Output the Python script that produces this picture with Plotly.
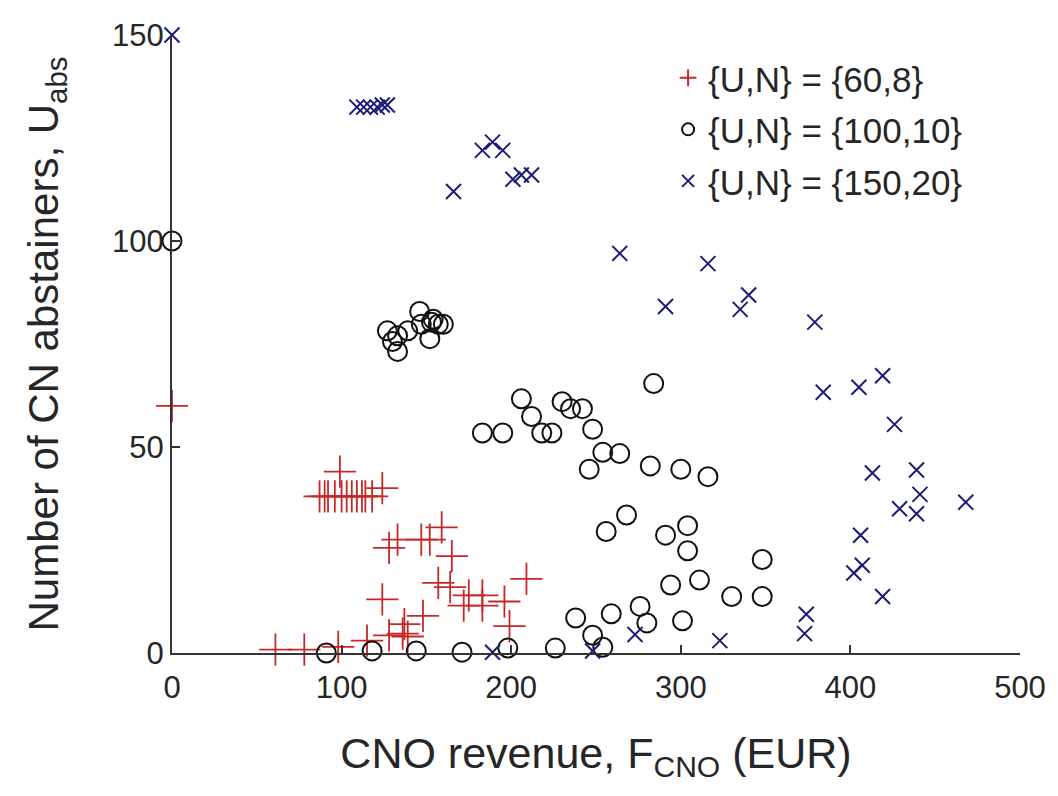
import plotly.graph_objects as go

# Series (U,N) = (60,8)
red_x = [0, 99, 87, 90, 92, 96, 100, 103, 106, 109, 112, 114, 118, 124,
         159, 152, 147, 133, 128, 165, 157, 164, 175, 183, 172, 183, 196, 209, 199,
         124, 148, 137, 136, 128, 139, 115, 98, 78, 61]
red_y = [60, 44, 38, 38, 38, 38, 38, 38, 38, 38, 38, 38, 38, 40,
         30.5, 27.5, 27.5, 27.5, 25.5, 23.5, 17, 16, 14, 14, 11.5, 11.5, 12.5, 18, 6.5,
         13, 9, 7, 4.7, 4.3, 4, 3, 1.5, 0.8, 0.8]

# Series (U,N) = (100,10)
circ_x = [0, 146, 127, 133, 130, 133, 139, 147, 153, 157, 160, 152, 154,
          284, 206, 230, 235, 242, 212, 248, 183, 195, 218, 224, 254, 264, 246, 282, 300, 316,
          268, 256, 291, 304, 304, 294, 311, 330, 348, 348,
          238, 259, 276, 280, 301, 248, 254, 226, 198, 171, 144, 118, 91]
circ_y = [100, 82.9, 78.2, 77.0, 75.6, 73.2, 78.2, 79.8, 80.3, 79.8, 79.8, 76.3, 81.0,
          65.4, 61.7, 61.0, 59.3, 59.3, 57.4, 54.3, 53.4, 53.4, 53.4, 53.4, 48.7, 48.4, 44.6, 45.4, 44.6, 42.8,
          33.5, 29.5, 28.6, 30.9, 24.8, 16.5, 17.7, 13.7, 13.7, 22.7,
          8.5, 9.5, 11.3, 7.3, 7.8, 4.3, 1.4, 1.2, 1.2, 0.2, 0.5, 0.5, 0]

# Series (U,N) = (150,20)
blue_x = [0, 109, 113, 117, 121, 124, 127, 183, 189, 195, 201, 206, 212, 166,
          264, 291, 316, 340, 335, 379, 419, 405, 384, 426, 413, 439, 441, 429, 439, 468,
          406, 407, 402, 419, 374, 373, 323, 273, 248, 189]
blue_y = [150, 132.5, 132.5, 132.5, 132.5, 133, 133, 122, 124, 122, 115, 116, 116, 112,
          97, 84.1, 94.5, 86.9, 83.4, 80.3, 67.3, 64.5, 63.3, 55.5, 43.7, 44.4, 38.5, 35, 33.8, 36.6,
          28.6, 21.3, 19.4, 13.7, 9.4, 4.7, 3, 4.5, 0.5, 0.2]

series_names = ["{U,N} = {60,8}", "{U,N} = {100,10}", "{U,N} = {150,20}"]
x_ticks = [0, 100, 200, 300, 400, 500]
y_ticks = [0, 50, 100, 150]

FONT = "Liberation Sans, Arial, Helvetica, sans-serif"
TXT = "#262626"

fig = go.Figure()
fig.add_trace(go.Scatter(
    x=red_x, y=red_y, mode="markers", name=series_names[0], legendgroup="a",
    marker=dict(symbol="cross-thin", size=23, color="#c62828",
                line=dict(color="#c62828", width=1.8)),
    cliponaxis=False))
fig.add_trace(go.Scatter(
    x=circ_x, y=circ_y, mode="markers", name=series_names[1], legendgroup="b",
    marker=dict(symbol="circle-open", size=19, color="#111111",
                line=dict(color="#111111", width=2)),
    cliponaxis=False))
fig.add_trace(go.Scatter(
    x=blue_x, y=blue_y, mode="markers", name=series_names[2], legendgroup="c",
    marker=dict(symbol="x-thin", size=15, color="#1c1c78",
                line=dict(color="#1c1c78", width=2)),
    cliponaxis=False))

axis_common = dict(
    showline=True, linecolor="#333333", linewidth=2, mirror=False,
    ticks="inside", ticklen=8, tickwidth=1.5, tickcolor="#333333",
    showgrid=False, zeroline=False, ticklabeloverflow="allow",
    tickfont=dict(family=FONT, size=31, color=TXT),
)

fig.update_layout(
    width=1058, height=796,
    margin=dict(l=164, r=46, t=10, b=151),
    plot_bgcolor="white", paper_bgcolor="white",
    font=dict(family=FONT, size=28, color=TXT),
    xaxis=dict(range=[0, 500], tickvals=x_ticks, ticklabelstandoff=6, **axis_common,
               title=dict(text="CNO revenue, F<sub>CNO</sub> (EUR)",
                          font=dict(family=FONT, size=43, color=TXT), standoff=34)),
    yaxis=dict(range=[0, 150], tickvals=y_ticks, **axis_common,
               title=dict(text="Number of CN abstainers, U<sub>abs</sub>",
                          font=dict(family=FONT, size=42, color=TXT), standoff=40)),
    legend=dict(x=0.585, y=0.978, xanchor="left", yanchor="top",
                bgcolor="rgba(255,255,255,0)", font=dict(family=FONT, size=35, color=TXT),
                tracegroupgap=3, itemsizing="constant"),
    showlegend=True,
)

fig.write_html("out.html")
